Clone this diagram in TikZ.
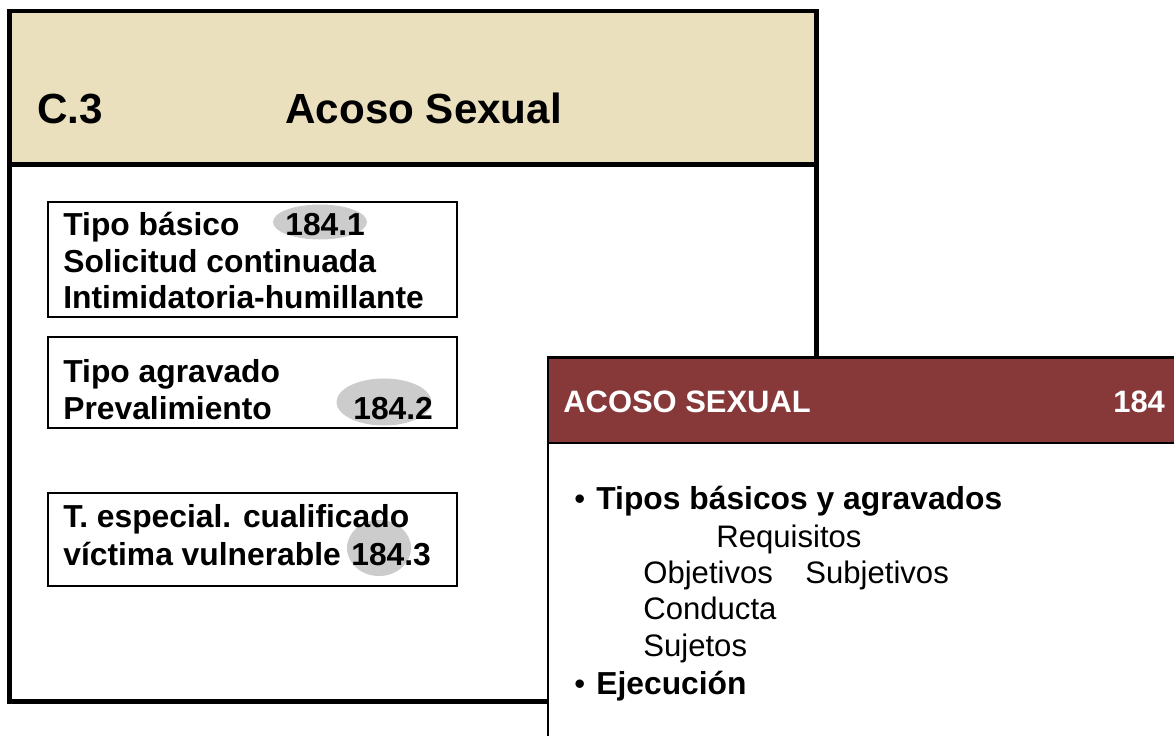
\documentclass[tikz,border=0pt]{standalone}
\usepackage{fontspec}
\setmainfont{Liberation Sans}
\usetikzlibrary{shapes.geometric}
\definecolor{panelTan}{RGB}{234,224,190}
\definecolor{panelRed}{RGB}{135,57,58}
\definecolor{markGray}{RGB}{204,204,204}

\begin{document}
\begin{tikzpicture}[x=0.02cm,y=-0.02cm,
  titletxt/.style={anchor=base west,inner sep=0pt,font=\bfseries\fontsize{24.0}{28}\selectfont},
  boxtxt/.style={anchor=base west,inner sep=0pt,font=\bfseries\fontsize{18.1}{20}\selectfont},
  casebox/.style={draw=black,line width=1.2pt},
  artmark/.style={ellipse,fill=markGray,inner sep=0pt},
  headtxt/.style={anchor=base west,inner sep=0pt,text=white,font=\bfseries\fontsize{17.6}{20}\selectfont},
  listhead/.style={anchor=base west,inner sep=0pt,font=\bfseries\fontsize{18.1}{20}\selectfont},
  listtxt/.style={anchor=base west,inner sep=0pt,font=\fontsize{17.7}{20}\selectfont}]
\path[use as bounding box] (0,0) rectangle (1174,735);
\clip (0,0) rectangle (1174,735);

\fill[panelTan] (9.5,11) rectangle (816.5,164.5);
\draw[line width=2.8pt] (9.5,11) rectangle (816.5,701.5);
\draw[line width=2.8pt] (9.5,164.5) -- (816.5,164.5);
\node[titletxt] (code) at (37,123) {C.3};
\node[titletxt] (title) at (285,123) {Acoso Sexual};

\draw[casebox] (48,202) rectangle (457,317);
\node[artmark,minimum width=1.88cm,minimum height=0.70cm] (m1) at (320,222) {};
\node[boxtxt] (b1a) at (63,235) {Tipo básico};
\node[boxtxt] (n1) at (285,235) {184.1};
\node[boxtxt] (b1b) at (63,272) {Solicitud continuada};
\node[boxtxt] (b1c) at (63,308) {Intimidatoria-humillante};

\draw[casebox] (48,337) rectangle (457,428);
\node[artmark,minimum width=1.90cm,minimum height=0.94cm] (m2) at (384,402) {};
\node[boxtxt] (b2a) at (63,382) {Tipo agravado};
\node[boxtxt] (b2b) at (63,419) {Prevalimiento};
\node[boxtxt] (n2) at (353,419) {184.2};

\draw[casebox] (48,493) rectangle (457,586);
\node[artmark,minimum width=1.28cm,minimum height=1.12cm] (m3) at (379,548) {};
\node[boxtxt] (b3a) at (63,527) {T. especial. cualificado};
\node[boxtxt] (b3b) at (63,565) {víctima vulnerable};
\node[boxtxt] (n3) at (351,565) {184.3};

\fill[white] (548,357.5) rectangle (1190,750);
\fill[panelRed] (548,357.5) rectangle (1190,443);
\draw[line width=1.7pt] (1190,357.5) -- (548,357.5) -- (548,750);
\draw[line width=1.2pt] (548,443) -- (1190,443);
\node[headtxt] (art) at (563,412) {ACOSO SEXUAL};
\node[headtxt] (artnum) at (1113,412) {184};

\node[listtxt] (dot1) at (574,509) {•};
\node[listhead] (l1) at (596,509) {Tipos básicos y agravados};
\node[listtxt] (l2) at (716,547) {Requisitos};
\node[listtxt] (l3) at (643,583) {Objetivos};
\node[listtxt] (l4) at (805,583) {Subjetivos};
\node[listtxt] (l5) at (643,619) {Conducta};
\node[listtxt] (l6) at (643,656) {Sujetos};
\node[listtxt] (dot2) at (574,694) {•};
\node[listhead] (l7) at (596,694) {Ejecución};
\end{tikzpicture}
\end{document}
